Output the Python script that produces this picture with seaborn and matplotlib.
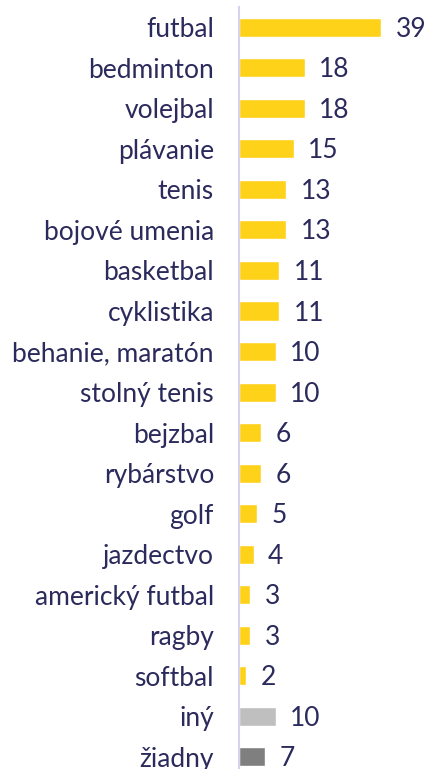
import matplotlib
matplotlib.use("Agg")
import matplotlib.pyplot as plt
import seaborn as sns
import pandas as pd

sports = ["futbal", "bedminton", "volejbal", "plávanie", "tenis", "bojové umenia",
          "basketbal", "cyklistika", "behanie, maratón", "stolný tenis", "bejzbal",
          "rybárstvo", "golf", "jazdectvo", "americký futbal", "ragby", "softbal",
          "iný", "žiadny"]
counts = [39, 18, 18, 15, 13, 13, 11, 11, 10, 10, 6, 6, 5, 4, 3, 3, 2, 10, 7]

yellow = "#FFD21A"
colors = [yellow] * 17 + ["#BFBFBF", "#7F7F7F"]
navy = "#2B2A5C"

df = pd.DataFrame({"sport": sports, "count": counts})

sns.set_theme(style="white")
plt.rcParams["font.family"] = ["Lato", "DejaVu Sans"]

fig = plt.figure(figsize=(4.29, 7.69), dpi=100)
ax = fig.add_axes([239 / 429, 0.0, 1 - 239 / 429, 1 - 7 / 769])

sns.barplot(data=df, x="count", y="sport", hue="sport", palette=colors,
            legend=False, width=0.47, ax=ax, saturation=1)

for i, v in enumerate(counts):
    ax.text(v + 4.0, i + 0.05, str(v), va="center", ha="left", fontsize=19, color=navy)

ax.set_xlim(0, 190 / 3.65)
ax.set_ylim(18.3, -0.5)
ax.set_xlabel("")
ax.set_ylabel("")
ax.set_xticks([])
ax.tick_params(axis="y", length=0, pad=18, labelsize=19, labelcolor=navy)
for s in ["top", "right", "bottom"]:
    ax.spines[s].set_visible(False)
ax.spines["left"].set_color("#D4D4F2")
ax.spines["left"].set_linewidth(1.5)

fig.savefig("out.png", dpi=100)
